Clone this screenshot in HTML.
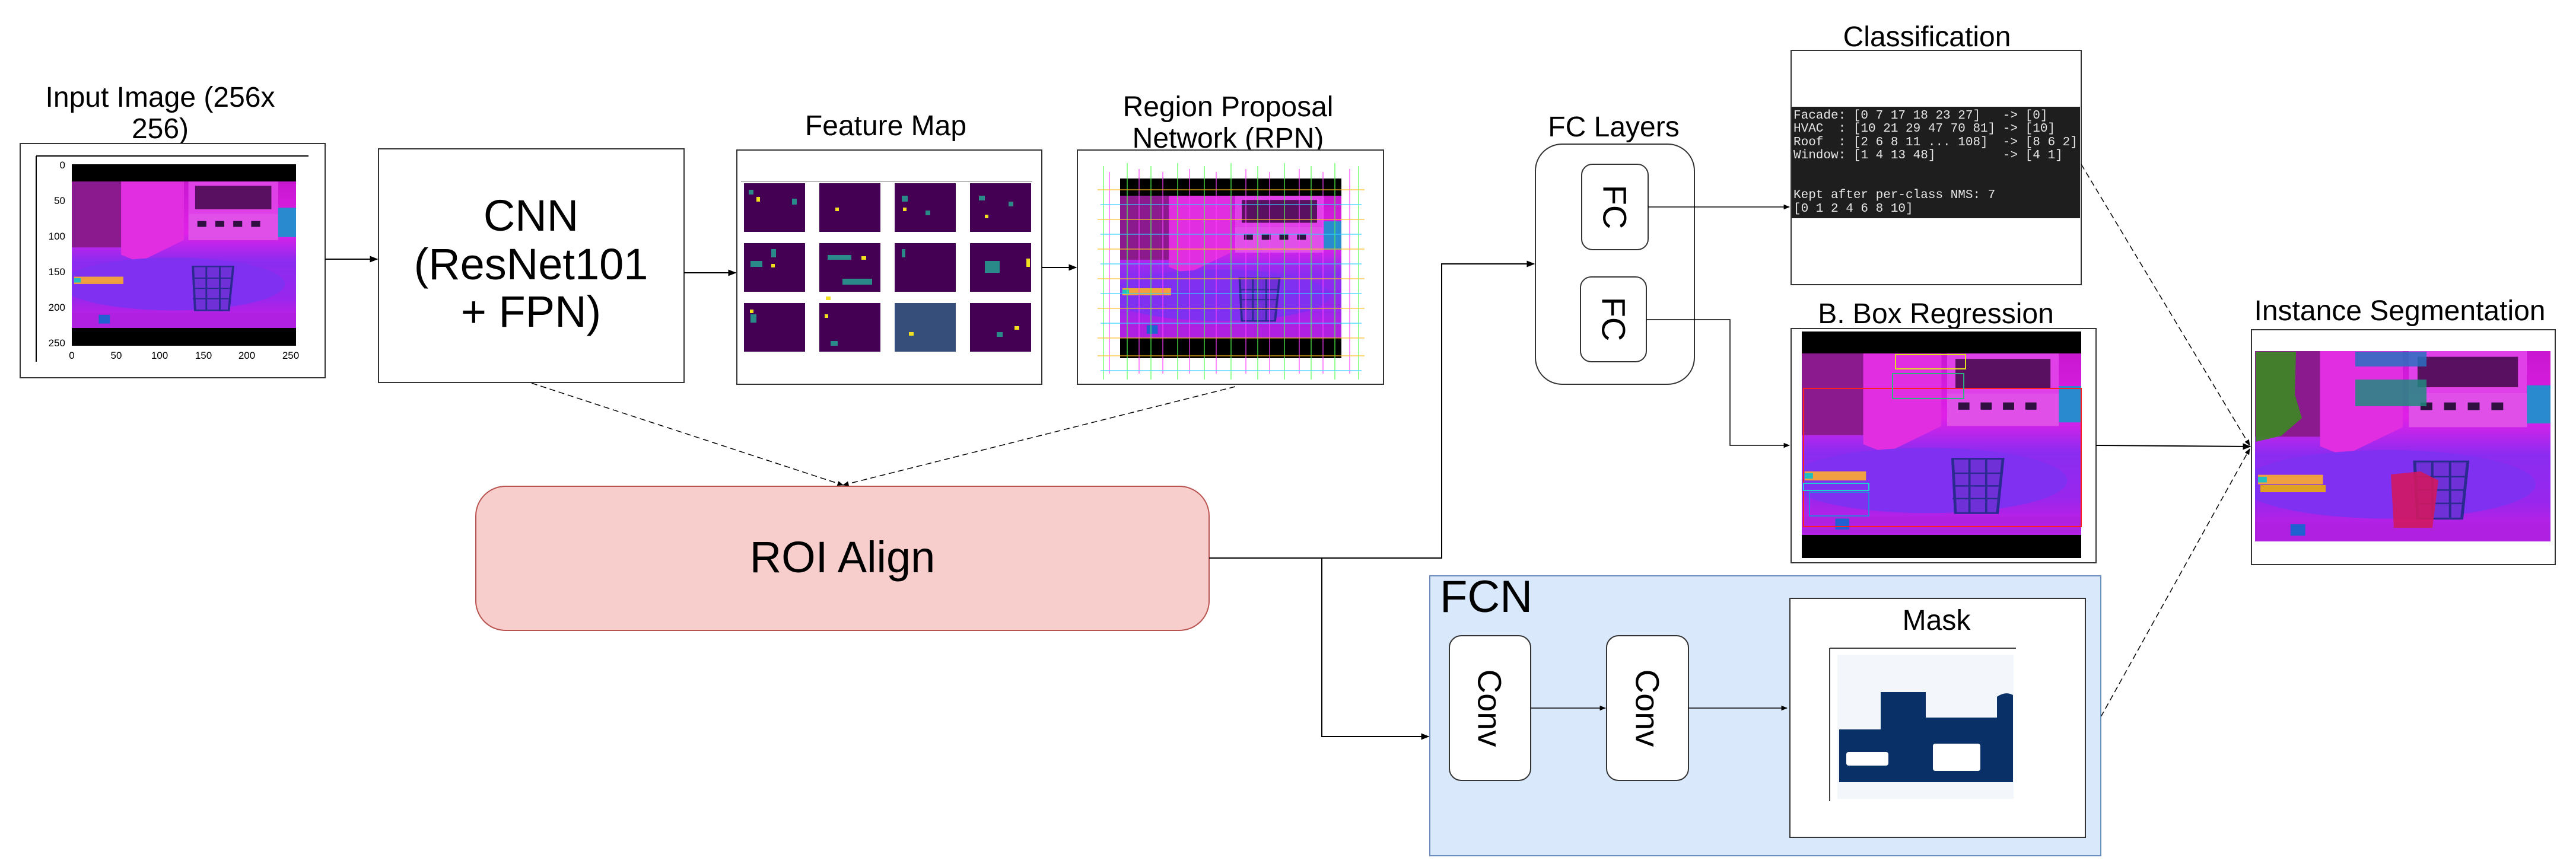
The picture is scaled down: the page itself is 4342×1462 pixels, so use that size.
<!DOCTYPE html>
<html><head><meta charset="utf-8"><style>
html,body{margin:0;padding:0;background:#fff;}
svg{display:block;}
text{font-family:"Liberation Sans",Arial,sans-serif;}
.mono{font-family:"Liberation Mono",monospace;font-size:21px;fill:#e6e6e6;}
</style></head><body>
<svg width="4342" height="1462" viewBox="0 0 4342 1462" xmlns="http://www.w3.org/2000/svg">
<defs>
<marker id="ar" viewBox="0 0 10 10" refX="9" refY="5" markerWidth="7" markerHeight="7" orient="auto"><path d="M0,1 L10,5 L0,9 z" fill="#000"/></marker>
<linearGradient id="bg" x1="0" y1="0" x2="0" y2="1">
<stop offset="0" stop-color="#c818d0"/><stop offset="0.35" stop-color="#e020e8"/><stop offset="0.55" stop-color="#8a2cf0"/><stop offset="0.8" stop-color="#9a26ec"/><stop offset="1" stop-color="#d01ce0"/></linearGradient>
<symbol id="scene" viewBox="0 0 100 100" preserveAspectRatio="none">
<rect x="0" y="0" width="100" height="100" fill="url(#bg)"/>
<rect x="0" y="0" width="22" height="45" fill="#8a1a8e"/>
<polygon points="22,0 50,0 50,40 30,55 22,50" fill="#e02ee0"/>
<rect x="52" y="0" width="40" height="22" fill="#e040e8"/>
<rect x="55" y="3" width="34" height="16" fill="#5a1060"/>
<rect x="52" y="22" width="40" height="18" fill="#e050e8"/>
<rect x="56" y="27" width="4" height="4" fill="#301040"/><rect x="64" y="27" width="4" height="4" fill="#301040"/><rect x="72" y="27" width="4" height="4" fill="#301040"/><rect x="80" y="27" width="4" height="4" fill="#301040"/>
<rect x="92" y="18" width="8" height="20" fill="#2a8ad0"/>
<ellipse cx="45" cy="70" rx="50" ry="18" fill="#8030f0"/>
<polygon points="54,58 72,58 70,88 55,88" fill="#7030d8" stroke="#2a2a90" stroke-width="1"/>
<path d="M54,66H72M54,73H71M54,80H71M60,58V88M66,58V88" stroke="#2a2a90" stroke-width="0.8"/>
<rect x="1" y="65" width="22" height="5" fill="#f0a040"/>
<rect x="1" y="66" width="3" height="3" fill="#20c0c0"/>
<rect x="0" y="90" width="100" height="10" fill="#b020e0"/>
<rect x="12" y="91" width="5" height="6" fill="#2060d0"/>
</symbol>
<symbol id="tile" viewBox="0 0 10 10" preserveAspectRatio="none"><rect width="10" height="10" fill="#440154"/></symbol>
</defs>

<!-- Input image -->
<text x="270" y="180" font-size="48" text-anchor="middle">Input Image (256x</text>
<text x="270" y="233" font-size="48" text-anchor="middle">256)</text>
<rect x="34" y="242" width="514" height="395" fill="#fff" stroke="#333" stroke-width="2"/>
<line x1="61" y1="263" x2="520" y2="263" stroke="#000" stroke-width="2"/>
<line x1="61" y1="263" x2="61" y2="610" stroke="#000" stroke-width="2"/>
<rect x="121" y="277" width="378" height="306" fill="#000"/>
<use href="#scene" x="121" y="306" width="378" height="247"/>
<g font-size="17" text-anchor="end">
<text x="110" y="284">0</text><text x="110" y="344">50</text><text x="110" y="404">100</text><text x="110" y="464">150</text><text x="110" y="524">200</text><text x="110" y="584">250</text></g>
<g font-size="17" text-anchor="middle">
<text x="121" y="605">0</text><text x="196" y="605">50</text><text x="269" y="605">100</text><text x="343" y="605">150</text><text x="416" y="605">200</text><text x="490" y="605">250</text></g>

<!-- CNN -->
<rect x="638" y="251" width="515" height="394" fill="#fff" stroke="#333" stroke-width="2"/>
<text x="895" y="389" font-size="74" text-anchor="middle">CNN</text>
<text x="895" y="471" font-size="74" text-anchor="middle">(ResNet101</text>
<text x="895" y="551" font-size="74" text-anchor="middle">+ FPN)</text>
<line x1="548" y1="437" x2="636" y2="437" stroke="#000" stroke-width="2" marker-end="url(#ar)"/>

<!-- Feature map -->
<text x="1493" y="228" font-size="48" text-anchor="middle">Feature Map</text>
<rect x="1242" y="253" width="514" height="395" fill="#fff" stroke="#333" stroke-width="2"/>
<line x1="1249" y1="306" x2="1740" y2="306" stroke="#bbb" stroke-width="2"/>
<g fill="#440154">
<rect x="1254" y="309" width="103" height="82"/><rect x="1381" y="309" width="103" height="82"/><rect x="1508" y="309" width="103" height="82"/><rect x="1635" y="309" width="103" height="82"/>
<rect x="1254" y="410" width="103" height="82"/><rect x="1381" y="410" width="103" height="82"/><rect x="1508" y="410" width="103" height="82"/><rect x="1635" y="410" width="103" height="82"/>
<rect x="1254" y="511" width="103" height="82"/><rect x="1381" y="511" width="103" height="82"/><rect x="1508" y="511" width="103" height="82"/><rect x="1635" y="511" width="103" height="82"/></g>
<g fill="#2a8a8a">
<rect x="1262" y="320" width="8" height="8"/><rect x="1335" y="335" width="8" height="10"/><rect x="1520" y="330" width="10" height="10"/><rect x="1560" y="355" width="8" height="8"/><rect x="1650" y="330" width="10" height="8"/><rect x="1700" y="340" width="8" height="8"/>
<rect x="1265" y="440" width="20" height="10"/><rect x="1300" y="420" width="8" height="14"/><rect x="1395" y="430" width="40" height="8"/><rect x="1420" y="470" width="50" height="10"/><rect x="1660" y="440" width="25" height="20"/><rect x="1520" y="420" width="6" height="14"/>
<rect x="1265" y="530" width="10" height="14"/><rect x="1508" y="511" width="103" height="82" fill="#30708a" opacity="0.7"/><rect x="1680" y="560" width="10" height="8"/><rect x="1400" y="575" width="12" height="8"/></g>
<g fill="#f0e020">
<rect x="1275" y="332" width="6" height="8"/><rect x="1408" y="350" width="6" height="6"/><rect x="1522" y="350" width="6" height="6"/><rect x="1660" y="362" width="6" height="6"/><rect x="1452" y="432" width="8" height="6"/><rect x="1300" y="445" width="6" height="6"/><rect x="1730" y="436" width="6" height="14"/><rect x="1264" y="522" width="6" height="6"/><rect x="1390" y="530" width="6" height="6"/><rect x="1532" y="560" width="8" height="6"/><rect x="1710" y="550" width="8" height="6"/><rect x="1392" y="500" width="8" height="6"/></g>
<line x1="1153" y1="460" x2="1240" y2="460" stroke="#000" stroke-width="2" marker-end="url(#ar)"/>

<!-- RPN -->
<text x="2070" y="196" font-size="48" text-anchor="middle">Region Proposal</text>
<text x="2070" y="249" font-size="48" text-anchor="middle">Network (RPN)</text>
<rect x="1816" y="253" width="516" height="395" fill="#fff" stroke="#333" stroke-width="2"/>
<rect x="1888" y="301" width="373" height="303" fill="#000"/>
<use href="#scene" x="1888" y="330" width="373" height="240"/>
<g stroke-width="1.5" opacity="0.8" fill="none">
<path d="M1860,280V640M1900,275V640M1940,280V640M1985,275V640M2030,280V640M2075,275V640M2120,280V640M2165,275V640M2210,280V640M2250,275V640M2290,280V640" stroke="#50ff50"/>
<path d="M1870,290V630M1920,285V630M1960,290V630M2005,285V630M2050,290V630M2100,285V630M2140,290V630M2190,285V630M2230,290V630M2275,285V630" stroke="#ff40ff"/>
<path d="M1850,320H2300M1850,370H2300M1850,420H2300M1850,470H2300M1850,520H2300M1850,570H2300M1850,600H2300" stroke="#ffc020"/>
<path d="M1855,345H2295M1855,395H2295M1855,445H2295M1855,495H2295M1855,545H2295M1855,625H2295" stroke="#30d0ff"/>
</g>
<line x1="1756" y1="451" x2="1814" y2="451" stroke="#000" stroke-width="2" marker-end="url(#ar)"/>

<!-- dashed to ROI -->
<line x1="896" y1="646" x2="1421" y2="818" stroke="#000" stroke-width="1.5" stroke-dasharray="10,6" marker-end="url(#ar)"/>
<line x1="2082" y1="652" x2="1421" y2="818" stroke="#000" stroke-width="1.5" stroke-dasharray="10,6" marker-end="url(#ar)"/>

<!-- ROI Align -->
<rect x="802" y="820" width="1236" height="243" rx="50" fill="#f8cecc" stroke="#b85450" stroke-width="2"/>
<text x="1420" y="965" font-size="74" text-anchor="middle">ROI Align</text>

<!-- ROI connectors -->
<path d="M2038,941 H2430 V445 H2586" fill="none" stroke="#000" stroke-width="2" marker-end="url(#ar)"/>
<path d="M2228,941 V1242 H2408" fill="none" stroke="#000" stroke-width="2" marker-end="url(#ar)"/>

<!-- FC Layers -->
<text x="2720" y="230" font-size="48" text-anchor="middle">FC Layers</text>
<rect x="2588" y="243" width="268" height="405" rx="45" fill="#fff" stroke="#333" stroke-width="2"/>
<rect x="2666" y="277" width="112" height="144" rx="18" fill="#fff" stroke="#333" stroke-width="2"/>
<rect x="2664" y="467" width="111" height="143" rx="18" fill="#fff" stroke="#333" stroke-width="2"/>
<text transform="translate(2722,349) rotate(90)" font-size="56" text-anchor="middle" dominant-baseline="central">FC</text>
<text transform="translate(2720,538) rotate(90)" font-size="56" text-anchor="middle" dominant-baseline="central">FC</text>
<line x1="2778" y1="349" x2="3016" y2="349" stroke="#000" stroke-width="1.5" marker-end="url(#ar)"/>
<path d="M2775,539 H2916 V751 H3016" fill="none" stroke="#000" stroke-width="1.5" marker-end="url(#ar)"/>

<!-- Classification -->
<text x="3248" y="78" font-size="48" text-anchor="middle">Classification</text>
<rect x="3019" y="85" width="489" height="395" fill="#fff" stroke="#333" stroke-width="2"/>
<rect x="3020" y="180" width="486" height="188" fill="#1e1e1e"/>
<text class="mono" x="3023" y="200" xml:space="preserve">Facade: [0 7 17 18 23 27]   -&gt; [0]</text>
<text class="mono" x="3023" y="222" xml:space="preserve">HVAC  : [10 21 29 47 70 81] -&gt; [10]</text>
<text class="mono" x="3023" y="245" xml:space="preserve">Roof  : [2 6 8 11 ... 108]  -&gt; [8 6 2]</text>
<text class="mono" x="3023" y="267" xml:space="preserve">Window: [1 4 13 48]         -&gt; [4 1]</text>
<text class="mono" x="3023" y="334" xml:space="preserve">Kept after per-class NMS: 7</text>
<text class="mono" x="3023" y="357" xml:space="preserve">[0 1 2 4 6 8 10]</text>

<!-- Box Regression -->
<text x="3263" y="545" font-size="48" text-anchor="middle">B. Box Regression</text>
<rect x="3019" y="554" width="514" height="395" fill="#fff" stroke="#333" stroke-width="2"/>
<rect x="3037" y="559" width="471" height="382" fill="#000"/>
<use href="#scene" x="3037" y="596" width="471" height="306"/>
<g fill="none" stroke-width="2">
<rect x="3040" y="655" width="468" height="233" stroke="#ff2020"/>
<rect x="3195" y="598" width="118" height="24" stroke="#e0e020"/>
<rect x="3190" y="630" width="120" height="42" stroke="#30b080"/>
<rect x="3040" y="815" width="110" height="12" stroke="#20d0d0"/>
<rect x="3050" y="830" width="100" height="40" stroke="#3080e0"/>
</g>

<!-- Instance Segmentation -->
<text x="4045" y="540" font-size="48" text-anchor="middle">Instance Segmentation</text>
<rect x="3795" y="556" width="512" height="396" fill="#fff" stroke="#333" stroke-width="2"/>
<use href="#scene" x="3801" y="592" width="498" height="321"/>
<polygon points="3802,593 3870,593 3868,665 3880,705 3845,735 3802,745" fill="#3a8a20" opacity="0.9"/>
<rect x="3970" y="593" width="120" height="25" fill="#2a70c0" opacity="0.85"/>
<rect x="3970" y="640" width="120" height="45" fill="#208a80" opacity="0.85"/>
<polygon points="4030,800 4080,795 4110,810 4100,890 4035,890" fill="#d01860" opacity="0.9"/>
<rect x="3810" y="818" width="110" height="12" fill="#e0a020"/>

<line x1="3533" y1="751" x2="3793" y2="753" stroke="#000" stroke-width="2" marker-end="url(#ar)"/>
<line x1="3508" y1="277" x2="3792" y2="751" stroke="#000" stroke-width="1.5" stroke-dasharray="10,6" marker-end="url(#ar)"/>
<line x1="3541" y1="1209" x2="3792" y2="757" stroke="#000" stroke-width="1.5" stroke-dasharray="10,6" marker-end="url(#ar)"/>

<!-- FCN -->
<rect x="2410" y="971" width="1131" height="472" fill="#dae8fc" stroke="#6c8ebf" stroke-width="2"/>
<text x="2427" y="1032" font-size="76">FCN</text>
<rect x="2443" y="1072" width="137" height="244" rx="20" fill="#fff" stroke="#333" stroke-width="2"/>
<rect x="2708" y="1072" width="138" height="244" rx="20" fill="#fff" stroke="#333" stroke-width="2"/>
<text transform="translate(2511,1194) rotate(90)" font-size="56" text-anchor="middle" dominant-baseline="central">Conv</text>
<text transform="translate(2777,1194) rotate(90)" font-size="56" text-anchor="middle" dominant-baseline="central">Conv</text>
<line x1="2580" y1="1194" x2="2706" y2="1194" stroke="#000" stroke-width="1.5" marker-end="url(#ar)"/>
<line x1="2846" y1="1194" x2="3012" y2="1194" stroke="#000" stroke-width="1.5" marker-end="url(#ar)"/>

<!-- Mask -->
<rect x="3017" y="1009" width="498" height="403" fill="#fff" stroke="#333" stroke-width="2"/>
<text x="3264" y="1062" font-size="48" text-anchor="middle">Mask</text>
<line x1="3084" y1="1093" x2="3398" y2="1093" stroke="#000" stroke-width="1.5"/>
<line x1="3084" y1="1093" x2="3084" y2="1351" stroke="#000" stroke-width="1.5"/>
<rect x="3097" y="1104" width="297" height="243" fill="#f3f7fc"/>
<path d="M3100,1230 H3170 V1167 H3246 V1210 H3366 V1175 Q3380,1165 3393,1172 V1319 H3100 Z" fill="#0a3167"/>
<rect x="3112" y="1268" width="71" height="23" rx="4" fill="#fff"/>
<rect x="3258" y="1254" width="80" height="46" rx="4" fill="#fff"/>
</svg>
</body></html>
